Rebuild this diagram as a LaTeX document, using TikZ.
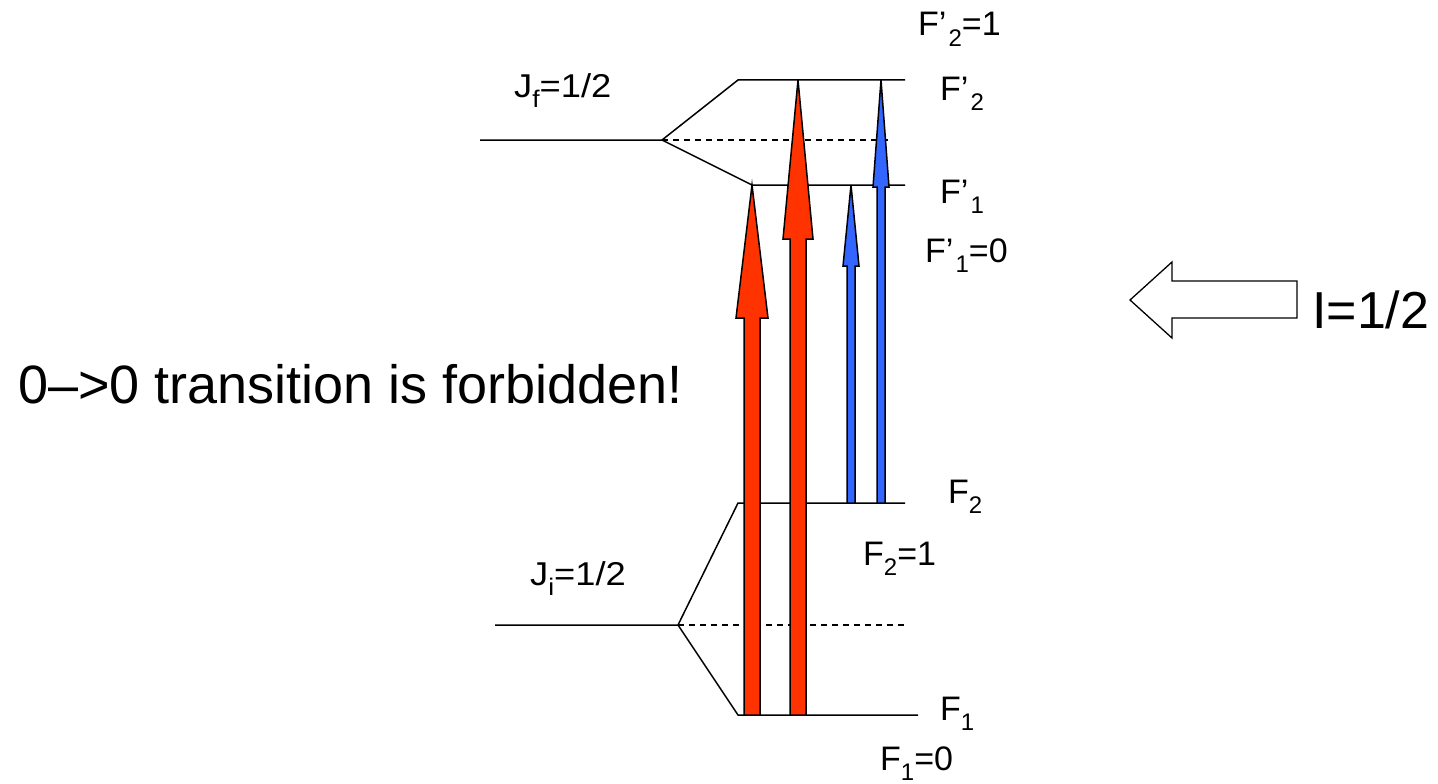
\documentclass[tikz,border=0pt]{standalone}
\usepackage{fontspec}
\setmainfont{Liberation Sans}
\newfontfamily\widefont[FakeStretch=1.1]{Liberation Sans}
\definecolor{myred}{HTML}{FF3300}
\definecolor{myblue}{HTML}{3366FF}
\newcommand{\lsub}[1]{\raisebox{-0.32em}{\fontsize{24}{24}\selectfont #1}}
\tikzset{
  level/.style={line width=1.5pt, line cap=butt},
  mid/.style={line width=1.3pt, dash pattern=on 6pt off 5pt},
  lbl/.style={inner sep=0pt, anchor=base west, font=\fontsize{34}{40}\selectfont},
  jlbl/.style={inner sep=0pt, anchor=base west, font=\widefont\fontsize{33}{40}\selectfont},
  big/.style={inner sep=0pt, anchor=base west, font=\fontsize{54}{64}\selectfont},
  fat/.style={draw=black, line width=1.5pt, line join=miter}
}
% x, ybottom, ytip, yheadbase, half shaft, half head, colour
\newcommand{\fatarr}[7]{%
  \filldraw[fat, fill=#7] (#1-#5,#2) -- (#1-#5,#4) -- (#1-#6,#4) -- (#1,#3)
    -- (#1+#6,#4) -- (#1+#5,#4) -- (#1+#5,#2) -- cycle;}
\begin{document}
\begin{tikzpicture}[x=1pt,y=-1pt]
\useasboundingbox (0,0) rectangle (1438,784);
% upper level
\coordinate (jf) at (480,140);
\coordinate (jfs) at (662,140);
\coordinate (fp2l) at (738,80);
\coordinate (fp2r) at (905,80);
\coordinate (fp1l) at (752,185);
\coordinate (fp1r) at (905,185);
\draw[level] (jf) -- (jfs) -- (fp2l) -- (fp2r);
\draw[level] (jfs) -- (fp1l) -- (fp1r);
\draw[mid] (jfs) -- (890,140);
% lower level
\coordinate (ji) at (495,625);
\coordinate (jis) at (678,625);
\coordinate (f2l) at (738,503);
\coordinate (f2r) at (905,503);
\coordinate (f1l) at (738,715);
\coordinate (f1r) at (918,715);
\draw[level] (ji) -- (jis) -- (f2l) -- (f2r);
\draw[level] (jis) -- (f1l) -- (f1r);
\draw[mid] (jis) -- (905,625);
% transition arrows
\fatarr{752}{715}{185}{318}{8}{16}{myred}
\fatarr{798}{715}{80}{239}{8}{15}{myred}
\fatarr{851}{503}{185}{266}{4}{8}{myblue}
\fatarr{881}{503}{80}{187}{4}{8}{myblue}
% labels
\node[lbl] (lfp2v) at (918,36) {F’\hspace{0.06em}\lsub{2}=1};
\node[jlbl] (ljf) at (514,97) {J\lsub{f}=1/2};
\node[lbl] (lfp2) at (940,100) {F’\hspace{0.06em}\lsub{2}};
\node[lbl] (lfp1) at (940,203) {F’\hspace{0.06em}\lsub{1}};
\node[lbl] (lfp1v) at (925,262) {F’\hspace{0.06em}\lsub{1}=0};
\node[lbl] (lf2) at (948,503) {F\lsub{2}};
\node[lbl] (lf2v) at (863,565) {F\lsub{2}=1};
\node[jlbl] (lji) at (530,585) {J\lsub{i}=1/2};
\node[lbl] (lf1) at (940,720) {F\lsub{1}};
\node[lbl] (lf1v) at (880,770) {F\lsub{1}=0};
\node[big] (forb) at (18,403) {0–>0 transition is forbidden!};
\node[big,font=\fontsize{52}{60}\selectfont] (spin) at (1312,328) {I=1/2};
% hollow arrow
\draw[line width=1.3pt, line join=miter] (1297,281) -- (1172,281) -- (1172,262) -- (1130,300)
  -- (1172,338) -- (1172,318) -- (1297,318) -- cycle;
\end{tikzpicture}
\end{document}
